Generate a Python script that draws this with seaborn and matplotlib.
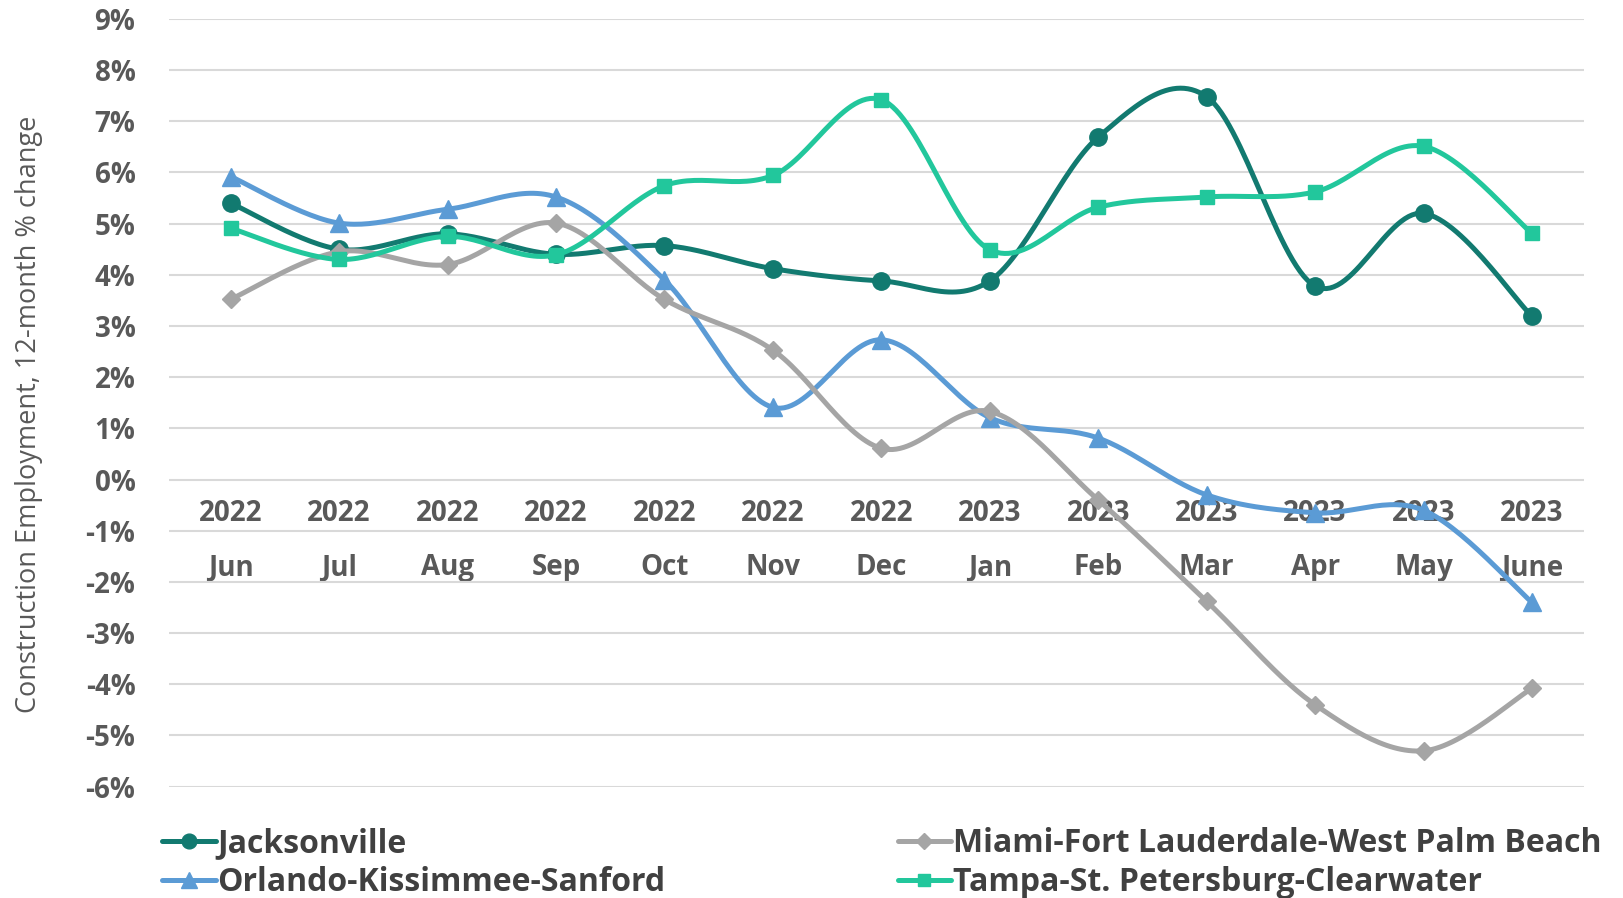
import numpy as np
import matplotlib
matplotlib.use("Agg")
import matplotlib.pyplot as plt
from matplotlib.lines import Line2D
import seaborn as sns

months = ["Jun", "Jul", "Aug", "Sep", "Oct", "Nov", "Dec", "Jan", "Feb", "Mar", "Apr", "May", "June"]
years = ["2022"] * 7 + ["2023"] * 6

jacksonville = [5.4, 4.5, 4.8, 4.4, 4.57, 4.12, 3.88, 3.88, 6.69, 7.48, 3.78, 5.2, 3.19]
miami = [3.52, 4.45, 4.2, 5.01, 3.52, 2.53, 0.61, 1.33, -0.4, -2.38, -4.4, -5.3, -4.08]
orlando = [5.92, 5.01, 5.28, 5.52, 3.9, 1.41, 2.73, 1.21, 0.81, -0.3, -0.65, -0.6, -2.4]
tampa = [4.91, 4.3, 4.75, 4.39, 5.74, 5.94, 7.42, 4.49, 5.32, 5.52, 5.62, 6.51, 4.81]

series_names = ["Jacksonville", "Orlando-Kissimmee-Sanford",
                "Miami-Fort Lauderdale-West Palm Beach", "Tampa-St. Petersburg-Clearwater"]
series_values = [jacksonville, orlando, miami, tampa]
colors = ["#127a70", "#5b9bd5", "#a5a5a5", "#22c79c"]
markers = ["o", "^", "D", "s"]
msizes = [12.5, 13.5, 9.5, 10.5]

sns.set_theme(style="white")
plt.rcParams["font.family"] = ["Open Sans", "DejaVu Sans"]

fig = plt.figure(figsize=(16.23, 8.98), dpi=100)
ax = fig.add_axes([0.104, 0.124, 0.872, 0.855])


def smooth(x, y, n=30):
    # Excel-style smoothed line (Catmull-Rom Bezier through the data points)
    P = np.column_stack([x, y]).astype(float)
    P_ext = np.vstack([P[0], P, P[-1]])
    out = []
    t = np.linspace(0, 1, n)[:, None]
    for i in range(len(P) - 1):
        p0, p1, p2, p3 = P_ext[i], P_ext[i + 1], P_ext[i + 2], P_ext[i + 3]
        c1 = p1 + (p2 - p0) / 6.0
        c2 = p2 - (p3 - p1) / 6.0
        seg = ((1 - t) ** 3) * p1 + 3 * ((1 - t) ** 2) * t * c1 + 3 * (1 - t) * t ** 2 * c2 + t ** 3 * p2
        out.append(seg if i == 0 else seg[1:])
    S = np.vstack(out)
    return S[:, 0], S[:, 1]


xpos = np.arange(len(months))
draw_order = [2, 1, 0, 3]
for k in draw_order:
    vals = series_values[k]
    sx, sy = smooth(xpos, vals)
    sns.lineplot(x=sx, y=sy, sort=False, estimator=None, color=colors[k], lw=3.6, ax=ax, zorder=4 + k)
    ax.plot(xpos, vals, ls="none", marker=markers[k], ms=msizes[k], color=colors[k],
            mec=colors[k], zorder=4 + k)

handles = [Line2D([0], [0], color=colors[k], lw=3.6, marker=markers[k],
                  ms=msizes[k] * 0.85, mec=colors[k]) for k in range(4)]

ax.set_ylim(-6, 9)
ax.set_xlim(-0.57, 12.48)
ax.set_yticks(np.arange(-6, 10, 1))
ax.set_yticklabels([f"{v}%" for v in range(-6, 10)])
ax.yaxis.grid(True, color="#d9d9d9", lw=1.5)
ax.xaxis.grid(False)
for s in ax.spines.values():
    s.set_visible(False)
ax.spines["bottom"].set_position(("data", 0))
ax.set_xticks(xpos)
ax.set_xticklabels([f"{y}\n{m}" for y, m in zip(years, months)], linespacing=2.15)
ax.tick_params(axis="x", length=0, pad=14, labelsize=20, labelcolor="#595959")
ax.tick_params(axis="y", length=0, pad=24, labelsize=20, labelcolor="#595959")
for lab in ax.get_xticklabels() + ax.get_yticklabels():
    lab.set_fontweight("bold")
ax.set_axisbelow(True)

fig.text(0.018, 0.539, "Construction Employment, 12-month % change", rotation=90,
         ha="center", va="center", fontsize=19.5, color="#595959")

common = dict(loc="upper left", frameon=False, prop={"size": 23, "weight": "bold"},
              handlelength=1.68, handletextpad=0.05, labelspacing=0.18,
              borderaxespad=0, borderpad=0)
leg1 = fig.legend(handles[:2], series_names[:2], bbox_to_anchor=(0.1, 0.079), **common)
leg2 = fig.legend(handles[2:], series_names[2:], bbox_to_anchor=(0.553, 0.079), **common)
for leg in (leg1, leg2):
    for t in leg.get_texts():
        t.set_color("#404040")

fig.savefig("out.png", dpi=100, facecolor="white")
